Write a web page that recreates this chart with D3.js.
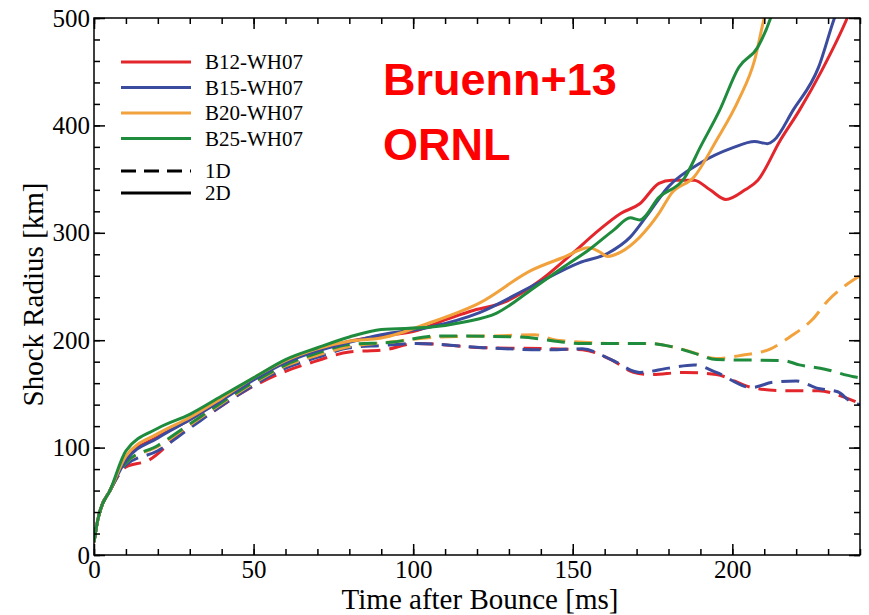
<!DOCTYPE html>
<meta charset="utf-8">
<html>
<head>
  <title>Shock radius</title>
  <script src="https://d3js.org/d3.v7.min.js"></script>
  <style>
    body { margin: 0; background: #fff; }
  </style>
</head>
<body>
<div id="chart"></div>
<script>
  // [time (ms), shock radius (km)]
  var early = [[0, 12], [1, 30], [2, 42], [5, 60]];

  var b12_2d = [[10, 90], [20, 110], [30, 126], [40, 145], [50, 164], [60, 180], [70, 191], [80, 199], [90, 204], [100, 208], [110, 219], [118, 227], [129, 236], [140, 256], [150, 281], [158, 302], [165, 318], [171, 327], [177, 346], [181, 349], [188, 349], [193, 340], [198, 331], [204, 340], [208, 349], [215, 386], [221, 414], [228, 451], [236, 500], [240, 530]];
  var b15_2d = [[10, 88], [20, 109], [30, 126], [40, 144], [50, 163], [60, 179], [70, 190], [80, 198], [90, 205], [105, 212], [121, 226], [137, 250], [152, 272], [161, 281], [168, 296], [173, 315], [180, 343], [190, 365], [200, 379], [207, 385], [211, 383], [213, 386], [219, 414], [227, 454], [232, 500], [236, 530]];
  var b20_2d = [[10, 92], [20, 113], [30, 128], [40, 146], [50, 165], [60, 181], [70, 192], [80, 199], [90, 202], [105, 216], [121, 235], [137, 265], [147, 277], [155, 286], [158, 283], [161, 278], [165, 282], [171, 296], [177, 318], [181, 337], [188, 352], [195, 386], [202, 424], [207, 461], [210, 500], [213, 530]];
  var b25_2d = [[10, 97], [20, 118], [30, 131], [40, 148], [50, 165], [60, 182], [70, 193], [80, 203], [90, 210], [105, 212], [116, 217], [126, 225], [137, 247], [147, 268], [155, 284], [163, 303], [168, 314], [171, 312], [177, 333], [185, 351], [190, 380], [196, 414], [202, 454], [208, 473], [212, 500], [215, 530]];

  var b12_1d = [[10, 82], [17, 88], [27, 113], [38, 135], [48, 154], [60, 171], [69, 180], [80, 189], [91, 191], [101, 197], [122, 193], [143, 192], [153, 191], [162, 182], [169, 170], [174, 168], [185, 170], [195, 168], [206, 156], [216, 153], [227, 153], [235, 147], [240, 141]];
  var b15_1d = [[10, 84], [20, 97], [30, 118], [40, 139], [50, 158], [60, 174], [70, 184], [80, 193], [90, 195], [101, 197], [122, 193], [143, 191], [153, 192], [162, 182], [171, 170], [180, 174], [188, 177], [195, 170], [206, 156], [213, 161], [220, 162], [227, 155], [233, 152], [237, 143], [240, 140]];
  var b20_1d = [[10, 86], [20, 101], [30, 121], [40, 141], [50, 160], [60, 176], [70, 186], [80, 194], [92, 198], [108, 203], [125, 204], [138, 205], [145, 200], [164, 197], [174, 197], [185, 191], [195, 183], [203, 186], [212, 192], [218, 203], [225, 219], [230, 237], [235, 250], [240, 260]];
  var b25_1d = [[10, 86], [20, 102], [30, 122], [40, 142], [50, 161], [60, 177], [70, 188], [80, 196], [93, 198], [108, 204], [133, 203], [153, 197], [174, 197], [181, 194], [188, 188], [195, 182], [216, 181], [221, 177], [229, 173], [238, 166], [240, 165]];

  var models = ["B12-WH07", "B15-WH07", "B20-WH07", "B25-WH07"];
  var colors = ["#e3262c", "#3b4b9d", "#f2a23c", "#1f8b3d"];
  var runs2d = [b12_2d, b15_2d, b20_2d, b25_2d];
  var runs1d = [b12_1d, b15_1d, b20_1d, b25_1d];
  var dims = ["1D", "2D"];

  var xTicks = [0, 50, 100, 150, 200];
  var yTicks = [0, 100, 200, 300, 400, 500];

  var margin = { top: 18, right: 9, bottom: 60, left: 94 },
    width = 869 - margin.left - margin.right,
    height = 615 - margin.top - margin.bottom;

  var svg = d3.select("#chart")
    .append("svg")
    .attr("width", 869)
    .attr("height", 615)
    .append("g")
    .attr("transform", "translate(" + margin.left + "," + margin.top + ")");

  var x = d3.scaleLinear().domain([0, 240]).range([0, width]);
  var y = d3.scaleLinear().domain([0, 500]).range([height, 0]);

  svg.append("clipPath").attr("id", "clip")
    .append("rect").attr("width", width).attr("height", height);

  var line = d3.line()
    .x(function (d) { return x(d[0]); })
    .y(function (d) { return y(d[1]); })
    .curve(d3.curveMonotoneX);

  var plot = svg.append("g").attr("clip-path", "url(#clip)");

  runs1d.forEach(function (run, i) {
    plot.append("path")
      .datum(early.concat(run))
      .attr("fill", "none")
      .attr("stroke", colors[i])
      .attr("stroke-width", 3)
      .attr("stroke-dasharray", "18,9")
      .attr("d", line);
  });
  runs2d.forEach(function (run, i) {
    plot.append("path")
      .datum(early.concat(run))
      .attr("fill", "none")
      .attr("stroke", colors[i])
      .attr("stroke-width", 3)
      .attr("d", line);
  });

  // axes, ticks inward on all four sides
  var minorX = d3.range(0, 241, 10), minorY = d3.range(0, 501, 20);
  function tickStyle(g) {
    g.select(".domain").remove();
    g.selectAll("line").attr("stroke", "#000").attr("stroke-width", 1.5);
    g.selectAll("text").attr("font-family", "Liberation Serif, serif").attr("font-size", 25).attr("fill", "#000");
  }
  svg.append("g").attr("transform", "translate(0," + height + ")")
    .call(d3.axisBottom(x).tickValues(minorX).tickSize(-6).tickFormat(""))
    .call(tickStyle);
  svg.append("g").attr("transform", "translate(0," + height + ")")
    .call(d3.axisBottom(x).tickValues(xTicks).tickSize(-11).tickPadding(5))
    .call(tickStyle);
  svg.append("g")
    .call(d3.axisTop(x).tickValues(minorX).tickSize(-6).tickFormat(""))
    .call(tickStyle);
  svg.append("g")
    .call(d3.axisTop(x).tickValues(xTicks).tickSize(-11).tickFormat(""))
    .call(tickStyle);
  svg.append("g")
    .call(d3.axisLeft(y).tickValues(minorY).tickSize(-6).tickFormat(""))
    .call(tickStyle);
  svg.append("g")
    .call(d3.axisLeft(y).tickValues(yTicks).tickSize(-11).tickPadding(4))
    .call(tickStyle);
  svg.append("g").attr("transform", "translate(" + width + ",0)")
    .call(d3.axisRight(y).tickValues(minorY).tickSize(-6).tickFormat(""))
    .call(tickStyle);
  svg.append("g").attr("transform", "translate(" + width + ",0)")
    .call(d3.axisRight(y).tickValues(yTicks).tickSize(-11).tickFormat(""))
    .call(tickStyle);

  svg.append("rect")
    .attr("width", width).attr("height", height)
    .attr("fill", "none").attr("stroke", "#000").attr("stroke-width", 1.5);

  svg.append("text")
    .attr("x", width / 2 + 3).attr("y", height + 54)
    .attr("text-anchor", "middle")
    .attr("font-family", "Liberation Serif, serif").attr("font-size", 29)
    .text("Time after Bounce [ms]");
  svg.append("text")
    .attr("transform", "translate(-51," + (height / 2 + 8) + ")rotate(-90)")
    .attr("text-anchor", "middle")
    .attr("font-family", "Liberation Serif, serif").attr("font-size", 29)
    .text("Shock Radius [km]");

  // legend
  var legend = svg.append("g").attr("transform", "translate(27,44)");
  models.forEach(function (m, i) {
    var g = legend.append("g").attr("transform", "translate(0," + (i * 25.5) + ")");
    g.append("line").attr("x1", 0).attr("x2", 70).attr("stroke", colors[i]).attr("stroke-width", 3);
    g.append("text").attr("x", 84).attr("y", 7)
      .attr("font-family", "Liberation Serif, serif").attr("font-size", 21).text(m);
  });
  dims.forEach(function (d, i) {
    var g = legend.append("g").attr("transform", "translate(0," + (109 + i * 22) + ")");
    g.append("line").attr("x1", 0).attr("x2", 70).attr("stroke", "#000").attr("stroke-width", 3)
      .attr("stroke-dasharray", i === 0 ? "15,8" : null);
    g.append("text").attr("x", 84).attr("y", 7)
      .attr("font-family", "Liberation Serif, serif").attr("font-size", 21).text(d);
  });

  // annotation
  svg.append("text").attr("x", 289).attr("y", 77)
    .attr("font-family", "Liberation Sans, sans-serif").attr("font-weight", "bold")
    .attr("font-size", 45).attr("fill", "#ff0000").text("Bruenn+13");
  svg.append("text").attr("x", 289).attr("y", 142)
    .attr("font-family", "Liberation Sans, sans-serif").attr("font-weight", "bold")
    .attr("font-size", 45).attr("fill", "#ff0000").text("ORNL");
</script>
</body>
</html>
